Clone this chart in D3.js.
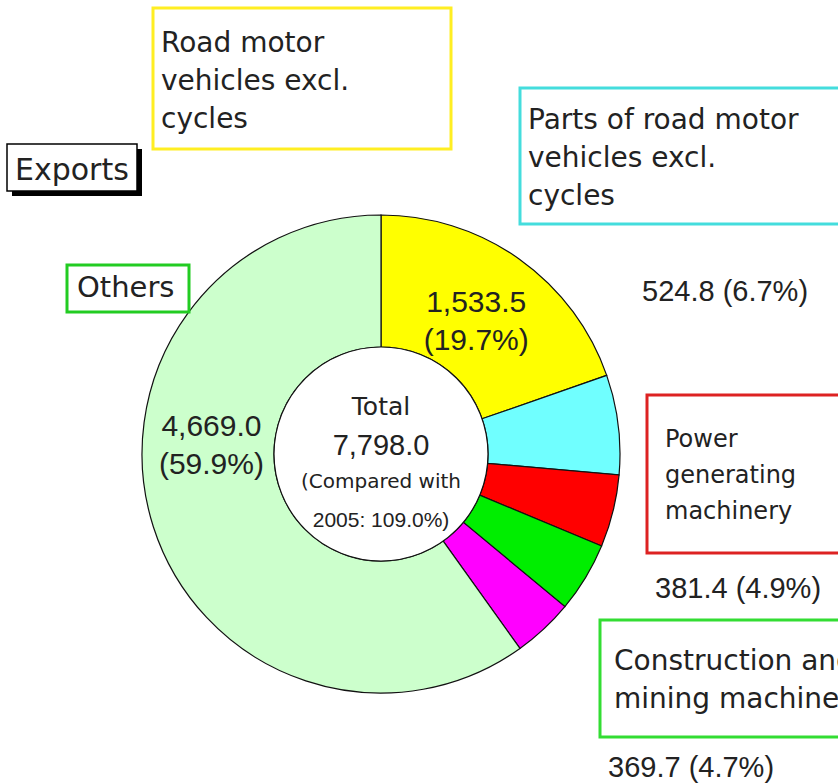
<!DOCTYPE html>
<html>
<head>
<meta charset="utf-8">
<script src="https://cdn.jsdelivr.net/npm/d3@7"></script>
<style>
  html, body { margin: 0; padding: 0; background: #fff; }
  svg { display: block; }
  .word { font-family: "DejaVu Sans", sans-serif; fill: #222; }
  .num { font-family: "Liberation Sans", Arial, sans-serif; fill: #222; }
</style>
</head>
<body>
<svg id="chart" width="838" height="783"></svg>
<script>
// *** Data ***
var categories = [
    "Road motor vehicles excl. cycles",
    "Parts of road motor vehicles excl. cycles",
    "Power generating machinery",
    "Construction and mining machinery",
    "Other machinery",
    "Others"
];
var values = [1533.5, 524.8, 381.4, 369.7, 319.6, 4669.0];
var shares = ["19.7%", "6.7%", "4.9%", "4.7%", "4.1%", "59.9%"];
var colors = ["#ffff00", "#70ffff", "#ff0000", "#00ee00", "#ff00ff", "#ccffcc"];
var boxColors = ["#ffee22", "#44dddd", "#dd2222", "#33dd33", "#ff00ff", "#22cc22"];
var totalValue = 7798.0;
var compared = "2005: 109.0%)";

// label wording, line by line
var labelLines = [
    ["Road motor", "vehicles excl.", "cycles"],
    ["Parts of road motor", "vehicles excl.", "cycles"],
    ["Power", "generating", "machinery"],
    ["Construction and", "mining machinery"],
    [],
    ["Others"]
];

var fmt = d3.format(",.1f");

// *** Layout (positions of the callout boxes, not data) ***
var cx = 381, cy = 454, outerR = 239, innerR = 107;

var boxes = [
    {x: 153, y: 8,   w: 298, h: 141, tx: 161, ty: 52,  lh: 38, size: 28},
    {x: 520, y: 88,  w: 330, h: 136, tx: 528, ty: 129, lh: 38, size: 28},
    {x: 647, y: 395, w: 200, h: 158, tx: 665, ty: 447, lh: 36, size: 24},
    {x: 600, y: 620, w: 260, h: 117, tx: 614, ty: 670, lh: 38, size: 28},
    null,
    {x: 67,  y: 265, w: 122, h: 47,  tx: 77,  ty: 297, lh: 0,  size: 29}
];
// value labels outside the ring
var outside = [
    null,
    {x: 642, y: 301},
    {x: 655, y: 598},
    {x: 608, y: 777},
    null,
    null
];
// value labels inside the ring: polar placement (degrees from 12 o'clock, radius)
var inside = [
    {angle: 35, r: 166},
    null, null, null, null,
    {angle: 274, r: 170}
];

var svg = d3.select("#chart");

// *** Donut ***
var pie = d3.pie().sort(null).value(d => d);
var arcs = pie(values);
var arc = d3.arc().innerRadius(innerR).outerRadius(outerR);

var ring = svg.append("g").attr("transform", "translate(" + cx + "," + cy + ")");

ring.selectAll("path.slice")
    .data(arcs).enter().append("path")
    .attr("class", "slice")
    .attr("d", arc)
    .attr("fill", (d, i) => colors[i])
    .attr("stroke", "#111")
    .attr("stroke-width", 1.2);

// inner white circle
ring.append("circle")
    .attr("r", innerR)
    .attr("fill", "#fff")
    .attr("stroke", "#111")
    .attr("stroke-width", 1.2);

// centre text
ring.append("text").attr("class", "word")
    .attr("text-anchor", "middle").attr("y", -39)
    .style("font-size", "25px").text("Total");
ring.append("text").attr("class", "num")
    .attr("text-anchor", "middle").attr("y", 1)
    .style("font-size", "29px").text(fmt(totalValue));
ring.append("text").attr("class", "word")
    .attr("text-anchor", "middle").attr("y", 34)
    .style("font-size", "20px").text("(Compared with");
ring.append("text").attr("class", "num")
    .attr("text-anchor", "middle").attr("y", 73)
    .style("font-size", "21px").text(compared);

// value labels inside the ring
arcs.forEach(function(a, i) {
    var p = inside[i];
    if (!p) return;
    var rad = p.angle * Math.PI / 180;
    var lx = Math.sin(rad) * p.r, ly = -Math.cos(rad) * p.r;
    var t = ring.append("text").attr("class", "num")
        .attr("text-anchor", "middle")
        .style("font-size", "30px");
    t.append("tspan").attr("x", lx).attr("y", ly - 6).text(fmt(values[i]));
    t.append("tspan").attr("x", lx).attr("y", ly + 32).text("(" + shares[i] + ")");
});

// *** Callout boxes ***
boxes.forEach(function(b, i) {
    if (!b) return;
    var g = svg.append("g");
    g.append("rect")
        .attr("x", b.x).attr("y", b.y)
        .attr("width", b.w).attr("height", b.h)
        .attr("fill", "#fff")
        .attr("stroke", boxColors[i])
        .attr("stroke-width", 3);
    var t = g.append("text").attr("class", "word").style("font-size", b.size + "px");
    labelLines[i].forEach(function(line, k) {
        t.append("tspan").attr("x", b.tx).attr("y", b.ty + k * b.lh).text(line);
    });
});

// value labels outside the ring
outside.forEach(function(o, i) {
    if (!o) return;
    svg.append("text").attr("class", "num")
        .attr("x", o.x).attr("y", o.y)
        .style("font-size", "29px")
        .text(fmt(values[i]) + " (" + shares[i] + ")");
});

// *** "Exports" title box with drop shadow ***
var title = svg.append("g");
title.append("rect")
    .attr("x", 12).attr("y", 149).attr("width", 130).attr("height", 47)
    .attr("fill", "#000");
title.append("rect")
    .attr("x", 7).attr("y", 144).attr("width", 130).attr("height", 47)
    .attr("fill", "#fff").attr("stroke", "#000").attr("stroke-width", 1.5);
title.append("text").attr("class", "word")
    .attr("x", 15).attr("y", 180)
    .style("font-size", "30px").text("Exports");
</script>
</body>
</html>
